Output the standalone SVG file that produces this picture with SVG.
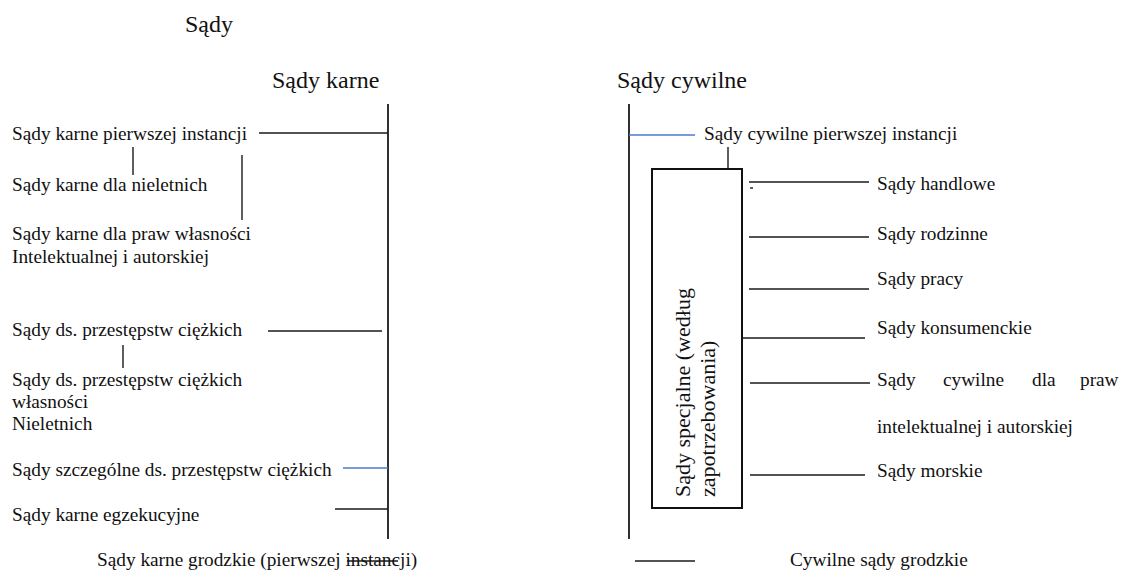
<svg xmlns="http://www.w3.org/2000/svg" width="1122" height="570" viewBox="0 0 1122 570">
<style>
text{font-family:"Liberation Serif","Times New Roman",serif;fill:#111;}
.h{font-size:24px;}
.t{font-size:19.3px;}
.r{font-size:22px;}
.ln{stroke:#1a1a1a;stroke-width:1.4;fill:none;}
.main{stroke:#1a1a1a;stroke-width:1.8;fill:none;}
.blue{stroke:#4a7bd0;stroke-width:1.3;fill:none;}
.box{stroke:#111;stroke-width:2;fill:#fff;}
</style>
<rect width="1122" height="570" fill="#fff"/>
<g id="connectors">
<line class="main" x1="388" y1="104" x2="388" y2="539"/>
<line class="main" x1="629" y1="104" x2="629" y2="539"/>
<line class="ln" x1="259" y1="133" x2="388" y2="133"/>
<line class="ln" x1="133" y1="147" x2="133" y2="175"/>
<line class="ln" x1="242" y1="155" x2="242" y2="220"/>
<line class="ln" x1="268" y1="331" x2="382" y2="331"/>
<line class="ln" x1="123" y1="345" x2="123" y2="368"/>
<line class="blue" x1="343" y1="468" x2="388" y2="468"/>
<line class="ln" x1="335" y1="509" x2="388" y2="509"/>
<line class="ln" x1="347" y1="561" x2="398" y2="561"/>
<line class="blue" x1="629" y1="135" x2="695" y2="135"/>
<line class="ln" x1="728" y1="147" x2="728" y2="169"/>
<line class="ln" x1="749" y1="182" x2="869" y2="182"/>
<line class="ln" x1="750" y1="188" x2="753" y2="188"/>
<line class="ln" x1="749" y1="237" x2="869" y2="237"/>
<line class="ln" x1="749" y1="289" x2="869" y2="289"/>
<line class="ln" x1="742" y1="338" x2="865" y2="338"/>
<line class="ln" x1="750" y1="383" x2="870" y2="383"/>
<line class="ln" x1="750" y1="475" x2="865" y2="475"/>
<line class="ln" x1="635" y1="561" x2="695" y2="561"/>
</g>
<g id="n-sady"><text class="h" x="185" y="32">Sądy</text></g>
<g id="n-karne"><text class="h" x="272" y="88">Sądy karne</text></g>
<g id="n-cywilne"><text class="h" x="617" y="88">Sądy cywilne</text></g>
<g id="n-k1"><text class="t" x="12" y="140">Sądy karne pierwszej instancji</text></g>
<g id="n-k2"><text class="t" x="12" y="191">Sądy karne dla nieletnich</text></g>
<g id="n-k3"><text class="t" x="12" y="240">Sądy karne dla praw własności</text><text class="t" x="12" y="263">Intelektualnej i autorskiej</text></g>
<g id="n-k4"><text class="t" x="12" y="336">Sądy ds. przestępstw ciężkich</text></g>
<g id="n-k5"><text class="t" x="12" y="386">Sądy ds. przestępstw ciężkich</text><text class="t" x="12" y="408">własności</text><text class="t" x="12" y="430">Nieletnich</text></g>
<g id="n-k6"><text class="t" x="12" y="476">Sądy szczególne ds. przestępstw ciężkich</text></g>
<g id="n-k7"><text class="t" x="12" y="521">Sądy karne egzekucyjne</text></g>
<g id="n-k8"><text class="t" x="97" y="566">Sądy karne grodzkie (pierwszej instancji)</text></g>
<g id="n-c1"><text class="t" x="704" y="140">Sądy cywilne pierwszej instancji</text></g>
<g id="n-spec"><rect class="box" x="652" y="169" width="90" height="339"/>
<text class="r" transform="translate(690,497) rotate(-90)" x="0" y="0">Sądy specjalne (według</text>
<text class="r" transform="translate(715,497) rotate(-90)" x="0" y="0">zapotrzebowania)</text></g>
<g id="n-c2"><text class="t" x="877" y="190">Sądy handlowe</text></g>
<g id="n-c3"><text class="t" x="877" y="240">Sądy rodzinne</text></g>
<g id="n-c4"><text class="t" x="877" y="285">Sądy pracy</text></g>
<g id="n-c5"><text class="t" x="877" y="334">Sądy konsumenckie</text></g>
<g id="n-c6"><text class="t" y="386"><tspan x="877">Sądy</tspan><tspan x="943">cywilne</tspan><tspan x="1032">dla</tspan><tspan x="1080">praw</tspan></text><text class="t" x="877" y="433">intelektualnej i autorskiej</text></g>
<g id="n-c7"><text class="t" x="877" y="477">Sądy morskie</text></g>
<g id="n-c8"><text class="t" x="790" y="566">Cywilne sądy grodzkie</text></g>
</svg>
